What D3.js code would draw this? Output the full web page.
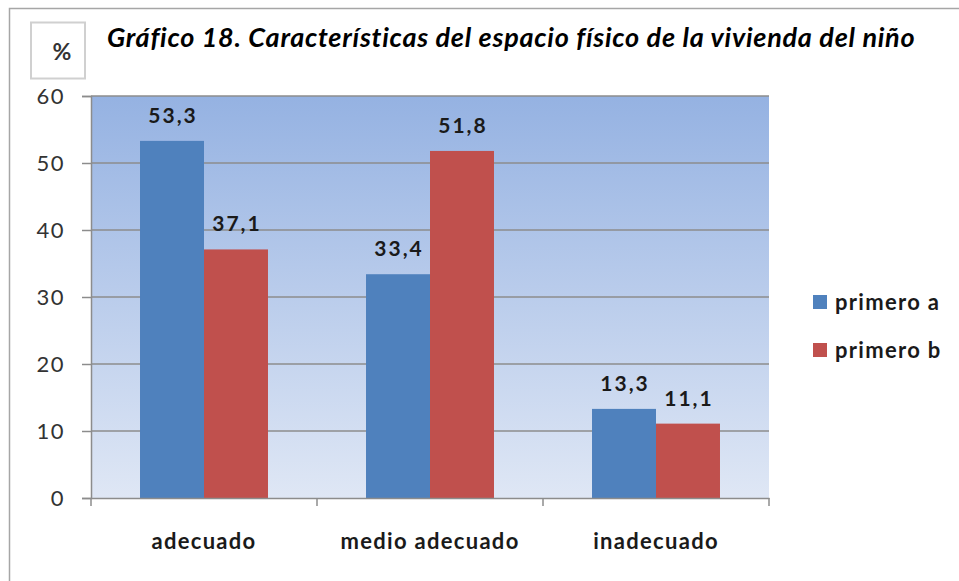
<!DOCTYPE html>
<html>
<head>
<meta charset="utf-8">
<script src="https://cdn.jsdelivr.net/npm/d3@7"></script>
<style>
  body { margin: 0; background: #fff; }
  text { font-family: Lato, "Open Sans", sans-serif; }
</style>
</head>
<body>
<div id="chart"></div>
<script>
// datos
var categories = ["adecuado", "medio adecuado", "inadecuado"];
var seriesNames = ["primero a", "primero b"];
var primeroA = [53.3, 33.4, 13.3];
var primeroB = [37.1, 51.8, 11.1];
var yTicks = [0, 10, 20, 30, 40, 50, 60];
var colors = ["#4f81bd", "#c0504d"];

var width = 959, height = 581;
var margin = {top: 96, right: 190, bottom: 83, left: 91};
var plotW = width - margin.left - margin.right;   // 678
var plotH = height - margin.top - margin.bottom;  // 402

var svg = d3.select("#chart").append("svg")
    .attr("width", width)
    .attr("height", height);

// gradiente del fondo
var defs = svg.append("defs");
var grad = defs.append("linearGradient")
    .attr("id", "bg").attr("x1", 0).attr("y1", 0).attr("x2", 0).attr("y2", 1);
grad.append("stop").attr("offset", "0%").attr("stop-color", "#95b2e2");
grad.append("stop").attr("offset", "100%").attr("stop-color", "#dfe7f5");

// borde exterior (solo se ve arriba e izquierda)
svg.append("path")
    .attr("d", "M9.5," + height + " V8.5 H" + width)
    .attr("fill", "none")
    .attr("stroke", "#a6a6a6")
    .attr("stroke-width", 1.5);

// caja del %
svg.append("rect")
    .attr("x", 31).attr("y", 22.5).attr("width", 54).attr("height", 56)
    .attr("fill", "#fff").attr("stroke", "#d0d0d0").attr("stroke-width", 2);
svg.append("text")
    .attr("x", 62).attr("y", 60)
    .attr("text-anchor", "middle")
    .attr("font-size", 23).attr("font-weight", "bold").attr("fill", "#333")
    .text("%");

// titulo
svg.append("text")
    .attr("x", 107).attr("y", 47)
    .attr("font-size", 27).attr("font-weight", "bold").attr("font-style", "italic")
    .attr("letter-spacing", 0.75)
    .attr("fill", "#000")
    .text("Gráfico 18. Características del espacio físico de la vivienda del niño");

var g = svg.append("g")
    .attr("transform", "translate(" + margin.left + "," + margin.top + ")");

var x0 = d3.scaleBand().domain(categories).range([0, plotW]).paddingInner(0).paddingOuter(0);
var x1 = d3.scaleBand().domain(seriesNames).range([0, x0.bandwidth()]).paddingInner(0).paddingOuter(0.766);
var y = d3.scaleLinear().domain([0, 60]).range([plotH, 0]);

g.append("rect")
    .attr("width", plotW).attr("height", plotH)
    .attr("fill", "url(#bg)");

// grid
g.selectAll("line.grid")
    .data(yTicks.filter(function(d) { return d > 0; }))
    .join("line")
    .attr("class", "grid")
    .attr("x1", 0).attr("x2", plotW)
    .attr("y1", function(d) { return y(d); })
    .attr("y2", function(d) { return y(d); })
    .attr("stroke", "#8c8c8c").attr("stroke-width", 1.5);

// barras
var data = [];
categories.forEach(function(c, i) {
  data.push({cat: c, serie: seriesNames[0], value: primeroA[i], color: colors[0]});
  data.push({cat: c, serie: seriesNames[1], value: primeroB[i], color: colors[1]});
});

g.selectAll("rect.bar")
    .data(data)
    .join("rect")
    .attr("class", "bar")
    .attr("x", function(d) { return x0(d.cat) + x1(d.serie); })
    .attr("y", function(d) { return y(d.value); })
    .attr("width", x1.bandwidth())
    .attr("height", function(d) { return plotH - y(d.value); })
    .attr("fill", function(d) { return d.color; });

// etiquetas de valor
g.selectAll("text.val")
    .data(data)
    .join("text")
    .attr("class", "val")
    .attr("x", function(d) { return x0(d.cat) + x1(d.serie) + x1.bandwidth() / 2 + 1; })
    .attr("y", function(d) { return y(d.value) - 18; })
    .attr("text-anchor", "middle")
    .attr("font-size", 21).attr("font-weight", "bold").attr("fill", "#1a1a1a")
    .attr("letter-spacing", 2)
    .text(function(d) { return d3.format(".1f")(d.value).replace(".", ","); });

// eje y
var yAxis = g.append("g")
    .call(d3.axisLeft(y).tickValues(yTicks).tickSize(9).tickPadding(17));
yAxis.select(".domain").attr("stroke", "#8c8c8c").attr("stroke-width", 1.5);
yAxis.selectAll(".tick line").attr("stroke", "#8c8c8c").attr("stroke-width", 1.5);
yAxis.selectAll(".tick text")
    .attr("font-size", 22).attr("fill", "#333")
    .attr("letter-spacing", 1.5)
    .attr("font-family", "Lato, 'Open Sans', sans-serif");

// eje x
var xAxis = g.append("g")
    .attr("transform", "translate(0," + plotH + ")")
    .call(d3.axisBottom(x0).tickSize(0).tickPadding(35));
xAxis.select(".domain").attr("stroke", "#8c8c8c").attr("stroke-width", 1.5);
xAxis.selectAll(".tick text")
    .attr("font-size", 22).attr("font-weight", "bold").attr("fill", "#1a1a1a")
    .attr("letter-spacing", 1.3)
    .attr("font-family", "Lato, 'Open Sans', sans-serif");
// marcas entre categorias
var bounds = categories.map(function(c) { return x0(c); }).concat([plotW]);
xAxis.selectAll("line.sep")
    .data(bounds)
    .join("line")
    .attr("class", "sep")
    .attr("x1", function(d) { return d; }).attr("x2", function(d) { return d; })
    .attr("y1", 0).attr("y2", 8)
    .attr("stroke", "#8c8c8c").attr("stroke-width", 1.5);

// leyenda
var legend = svg.append("g").attr("transform", "translate(813,295)");
var li = legend.selectAll("g")
    .data(seriesNames)
    .join("g")
    .attr("transform", function(d, i) { return "translate(0," + (i * 48) + ")"; });
li.append("rect")
    .attr("width", 14).attr("height", 14)
    .attr("fill", function(d, i) { return colors[i]; });
li.append("text")
    .attr("x", 22).attr("y", 15)
    .attr("font-size", 22).attr("font-weight", "bold").attr("fill", "#1a1a1a")
    .attr("letter-spacing", 1.3)
    .text(function(d) { return d; });
</script>
</body>
</html>
